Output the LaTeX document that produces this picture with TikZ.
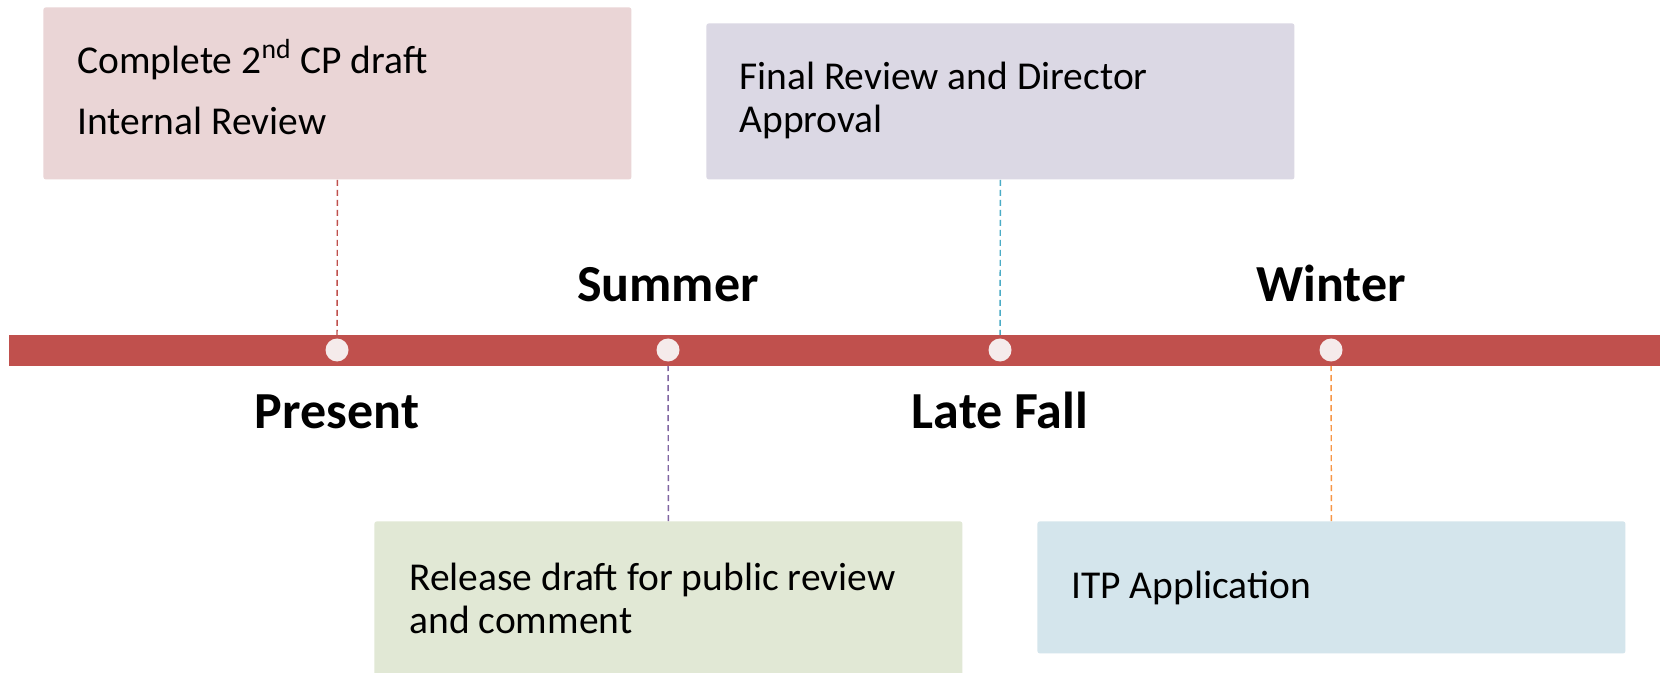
\documentclass[tikz,border=0pt]{standalone}
\usepackage{fontspec}
\setmainfont{Carlito}
\definecolor{barc}{HTML}{C0504D}
\definecolor{dotc}{HTML}{F5EBEB}
\definecolor{fillA}{HTML}{EAD5D6}
\definecolor{fillB}{HTML}{DBD8E4}
\definecolor{fillC}{HTML}{E1E8D5}
\definecolor{fillD}{HTML}{D4E5EC}
\definecolor{lineA}{HTML}{C0504D}
\definecolor{lineB}{HTML}{4BACC6}
\definecolor{lineC}{HTML}{8064A2}
\definecolor{lineD}{HTML}{F79646}
\begin{document}
\begin{tikzpicture}[x=0.5pt,y=-0.5pt,
  card/.style={draw=none, rounded corners=1.2pt, inner sep=0pt, minimum width=294pt, anchor=north west},
  cardtext/.style={anchor=base west, inner sep=0pt, font=\fontsize{19.75}{21}\selectfont},
  season/.style={anchor=base, inner sep=0pt, font=\fontsize{26}{30}\selectfont\bfseries},
  link/.style={line width=0.7pt, dash pattern=on 3pt off 2pt},
  dotnode/.style={circle, fill=dotc, minimum size=11.5pt, inner sep=0pt}]
\fill[white] (0,0) rectangle (1663,673);
\useasboundingbox (0,0) rectangle (1663,673);
% cards
\node[card, fill=fillA, minimum height=86pt] (b1) at (43,7) {};
\node[card, fill=fillB, minimum height=78pt] (b2) at (706,23) {};
\node[card, fill=fillC, minimum height=80pt] (b3) at (374,521) {};
\node[card, fill=fillD, minimum height=66pt] (b4) at (1037,521) {};
% card texts
\node[cardtext] (t1a) at (77,74) {Complete 2\textsuperscript{nd} CP draft};
\node[cardtext] (t1b) at (77,135) {Internal Review};
\node[cardtext] (t2a) at (739,90) {Final Review and Director};
\node[cardtext] (t2b) at (739,133) {Approval};
\node[cardtext] (t3a) at (409,590) {Release draft for public review};
\node[cardtext] (t3b) at (409,633) {and comment};
\node[cardtext] (t4) at (1071,598) {ITP Application};
% dot positions
\coordinate (d1) at (337,350);
\coordinate (d2) at (668,350);
\coordinate (d3) at (1000,350);
\coordinate (d4) at (1331,350);
% connectors
\draw[link, lineA] (b1.south) -- (d1);
\draw[link, lineB] (b2.south) -- (d3);
\draw[link, lineC] (b3.north) -- (d2);
\draw[link, lineD] (b4.north) -- (d4);
% bar
\fill[barc] (9,335) rectangle (1660,366);
% dots
\node[dotnode] (dot1) at (d1) {};
\node[dotnode] (dot2) at (d2) {};
\node[dotnode] (dot3) at (d3) {};
\node[dotnode] (dot4) at (d4) {};
% season labels
\node[season] (present) at (337,428) {Present};
\node[season] (summer) at (668,302) {Summer};
\node[season] (latefall) at (1000,428) {Late Fall};
\node[season] (winter) at (1331,302) {Winter};
\end{tikzpicture}
\end{document}
